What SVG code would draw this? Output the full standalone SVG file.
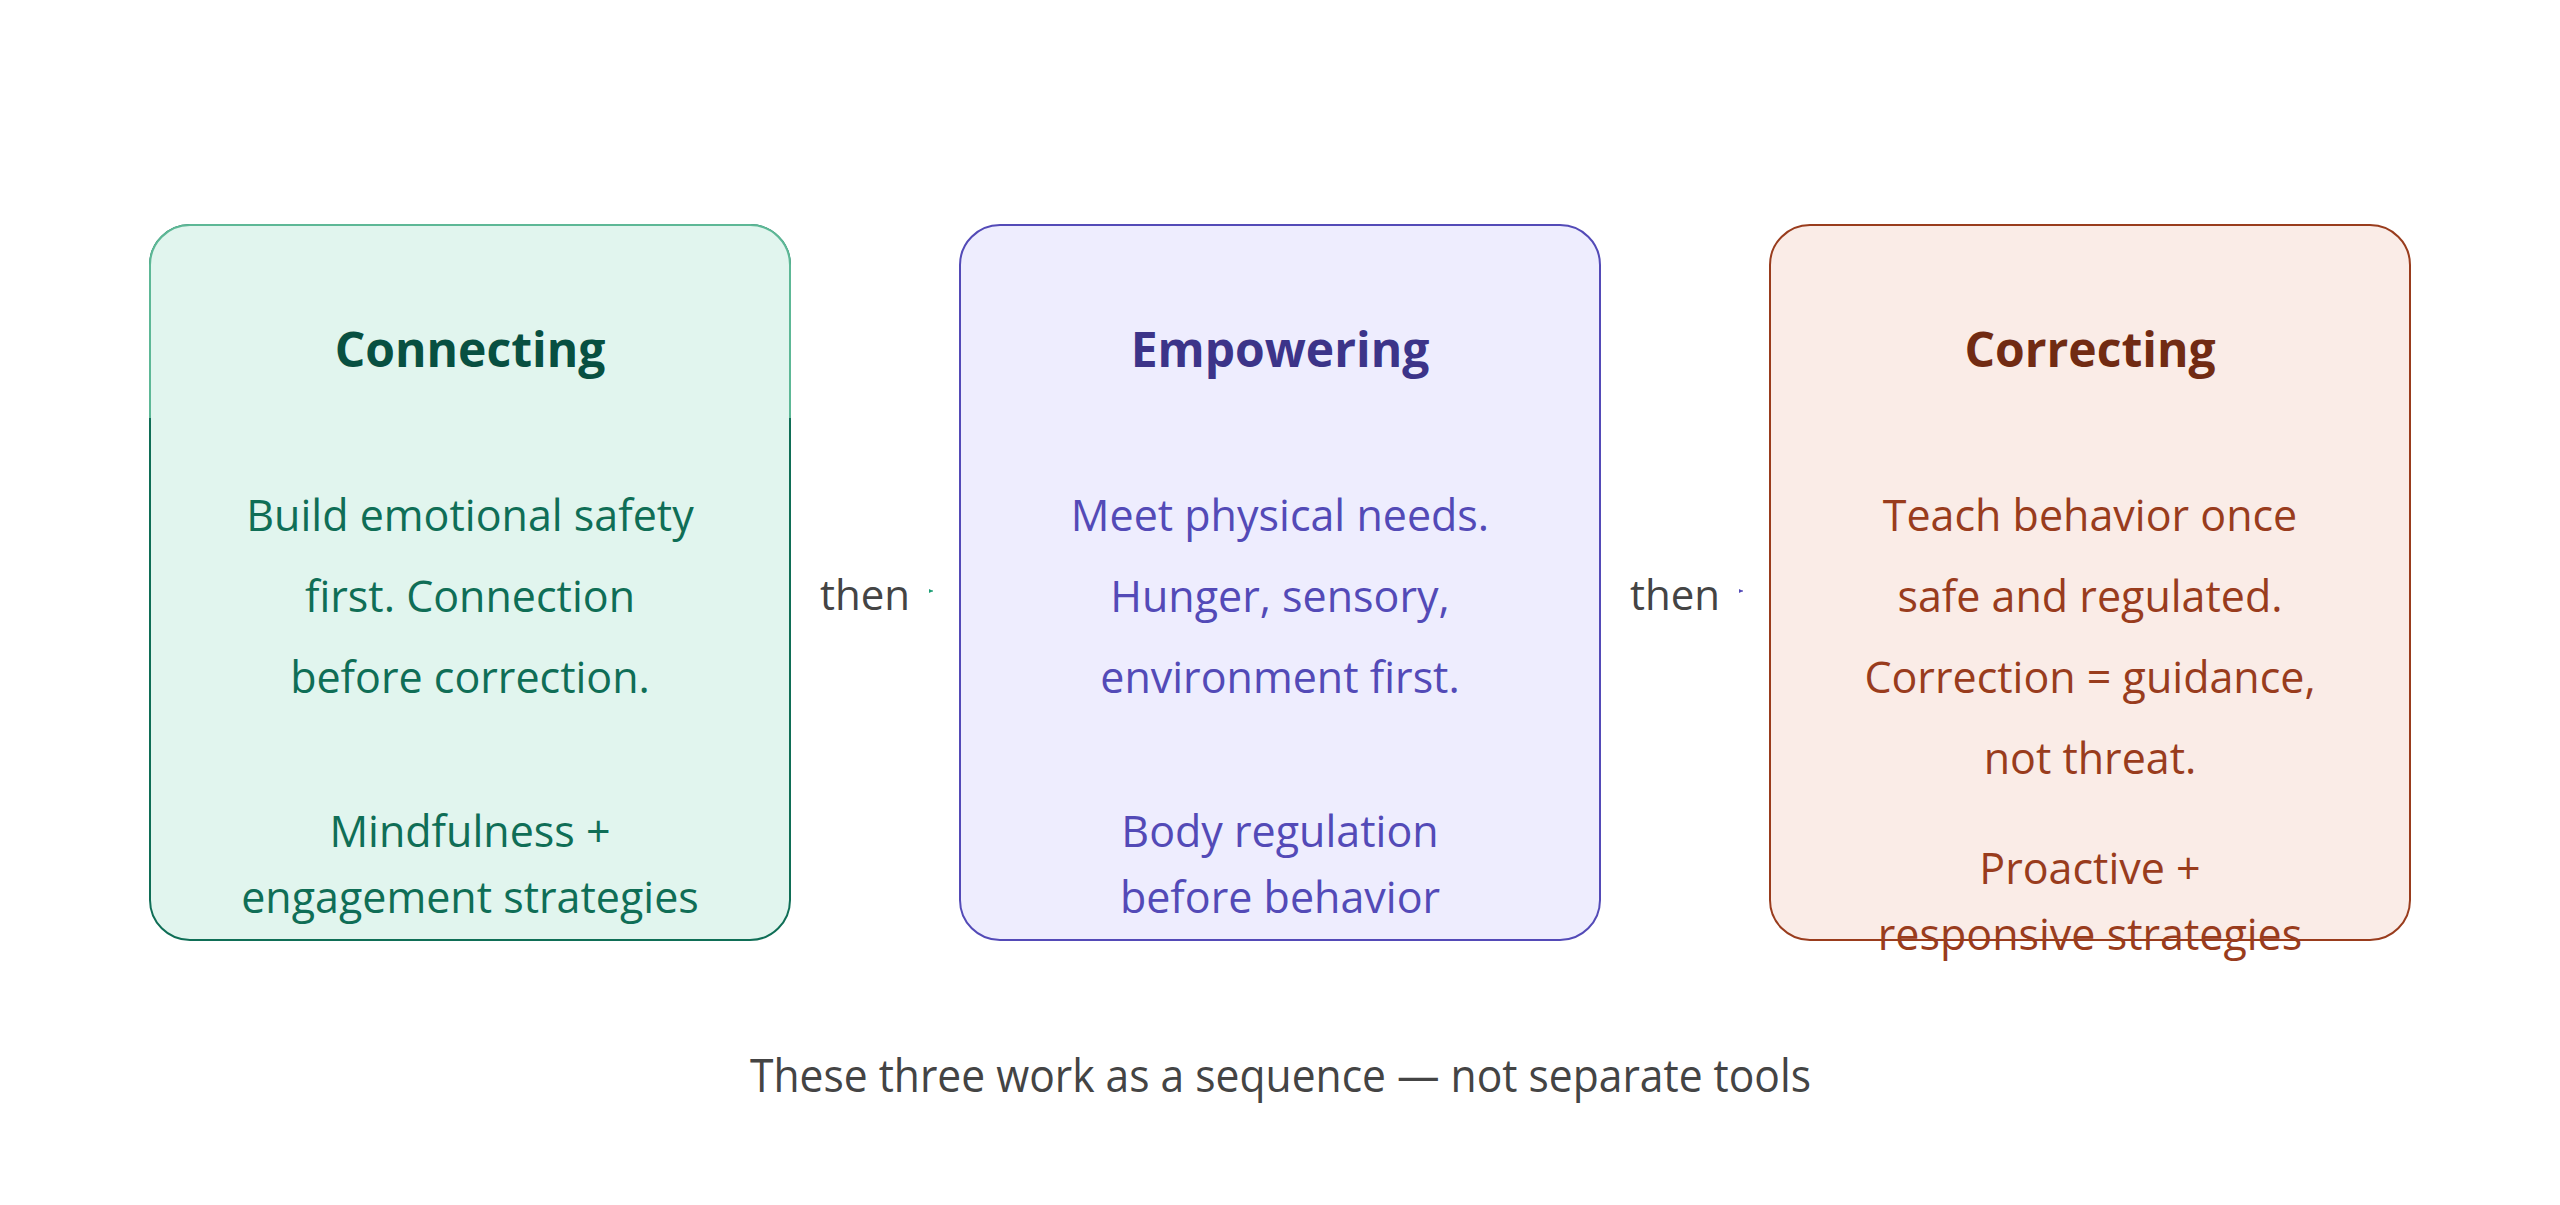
<svg xmlns="http://www.w3.org/2000/svg" width="2560" height="1205" viewBox="0 0 2560 1205">
  <style>
    .title { font-family: "Open Sans", "Noto Sans", "Liberation Sans", sans-serif; font-size: 48px; font-weight: 700; text-anchor: middle; }
    .body { font-family: "Open Sans", "Noto Sans", "Liberation Sans", sans-serif; font-size: 43px; font-weight: 400; text-anchor: middle; }
    .then { font-family: "Open Sans", "Noto Sans", "Liberation Sans", sans-serif; font-size: 42px; fill: #444444; text-anchor: middle; }
    .foot { font-family: "Open Sans", "Noto Sans", "Liberation Sans", sans-serif; font-size: 45px; fill: #444444; }
    .t-green { fill: #085041; } .b-green { fill: #0F6E56; }
    .t-purple { fill: #3C3489; } .b-purple { fill: #534AB7; }
    .t-coral { fill: #712B13; } .b-coral { fill: #993C1D; }
  </style>
  <defs>
    <marker id="ah-green" viewBox="0 0 4 4" refX="4" refY="2" markerWidth="4" markerHeight="4" markerUnits="userSpaceOnUse" orient="auto">
      <path d="M0,0 L4,2 L0,4 Z" fill="#1D9E75"/>
    </marker>
    <marker id="ah-purple" viewBox="0 0 4 4" refX="4" refY="2" markerWidth="4" markerHeight="4" markerUnits="userSpaceOnUse" orient="auto">
      <path d="M0,0 L4,2 L0,4 Z" fill="#534AB7"/>
    </marker>
  </defs>
  <rect x="0" y="0" width="2560" height="1205" fill="#ffffff"/>

  <g id="node-connecting">
    <rect x="150" y="225" width="640" height="715" rx="40" ry="40" fill="#E1F5EE" stroke="#0F6E56" stroke-width="2"/>
    <path d="M150,418 L150,265 A40,40 0 0 1 190,225 L750,225 A40,40 0 0 1 790,265 L790,418" fill="#E1F5EE" stroke="#5DB896" stroke-width="2"/>
    <text class="title t-green" x="470" y="367">Connecting</text>
    <text class="body b-green" x="470" y="531">Build emotional safety</text>
    <text class="body b-green" x="470" y="612">first. Connection</text>
    <text class="body b-green" x="470" y="693">before correction.</text>
    <text class="body b-green" x="470" y="847">Mindfulness +</text>
    <text class="body b-green" x="470" y="913">engagement strategies</text>
  </g>

  <g id="node-empowering">
    <rect x="960" y="225" width="640" height="715" rx="40" ry="40" fill="#EEEDFE" stroke="#534AB7" stroke-width="2"/>
    <text class="title t-purple" x="1280" y="367">Empowering</text>
    <text class="body b-purple" x="1280" y="531">Meet physical needs.</text>
    <text class="body b-purple" x="1280" y="612">Hunger, sensory,</text>
    <text class="body b-purple" x="1280" y="693">environment first.</text>
    <text class="body b-purple" x="1280" y="847">Body regulation</text>
    <text class="body b-purple" x="1280" y="913">before behavior</text>
  </g>

  <g id="node-correcting">
    <rect x="1770" y="225" width="640" height="715" rx="40" ry="40" fill="#FAECE7" stroke="#993C1D" stroke-width="2"/>
    <text class="title t-coral" x="2090" y="367">Correcting</text>
    <text class="body b-coral" x="2090" y="531">Teach behavior once</text>
    <text class="body b-coral" x="2090" y="612">safe and regulated.</text>
    <text class="body b-coral" x="2090" y="693">Correction = guidance,</text>
    <text class="body b-coral" x="2090" y="774">not threat.</text>
    <text class="body b-coral" x="2090" y="884">Proactive +</text>
    <text class="body b-coral" x="2090" y="950">responsive strategies</text>
  </g>

  <g id="connectors">
    <text class="then" x="865" y="610">then</text>
    <path d="M929,591 L933,591" fill="none" stroke="#1D9E75" stroke-width="1" marker-end="url(#ah-green)"/>
    <text class="then" x="1675" y="610">then</text>
    <path d="M1739,591 L1743,591" fill="none" stroke="#534AB7" stroke-width="1" marker-end="url(#ah-purple)"/>
  </g>

  <g id="footer">
    <text class="foot" x="750" y="1092" textLength="1061" lengthAdjust="spacingAndGlyphs">These three work as a sequence — not separate tools</text>
  </g>
</svg>
